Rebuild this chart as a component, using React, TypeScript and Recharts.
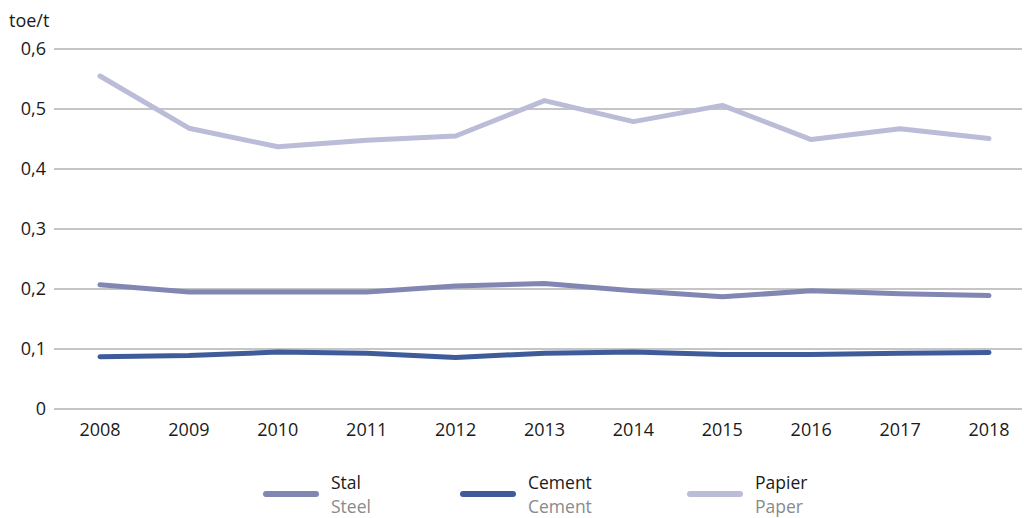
import React from 'react';
import { LineChart, Line, XAxis, YAxis, CartesianGrid } from 'recharts';

const years = ['2008', '2009', '2010', '2011', '2012', '2013', '2014', '2015', '2016', '2017', '2018'];
const steel = [0.207, 0.195, 0.195, 0.195, 0.205, 0.209, 0.197, 0.187, 0.197, 0.192, 0.189];
const cement = [0.087, 0.089, 0.095, 0.093, 0.086, 0.093, 0.095, 0.091, 0.091, 0.093, 0.094];
const paper = [0.555, 0.468, 0.437, 0.448, 0.455, 0.514, 0.479, 0.506, 0.449, 0.467, 0.451];
const yTicks = [0, 0.1, 0.2, 0.3, 0.4, 0.5, 0.6];

const seriesMeta = [
  { key: 'steel', pl: 'Stal', en: 'Steel', color: '#8187b2' },
  { key: 'cement', pl: 'Cement', en: 'Cement', color: '#3e5b9a' },
  { key: 'paper', pl: 'Papier', en: 'Paper', color: '#babcd8' },
];

const legendLeft = [263, 460, 687];

const data = years.map((y, i) => ({ year: y, steel: steel[i], cement: cement[i], paper: paper[i] }));

const FONT = '"Open Sans", "Noto Sans", sans-serif';
const FS = 18;

const LegendBlock = () => (
  <div style={{ position: 'absolute', top: 470, left: 0, width: 1024, height: 48, fontFamily: FONT, fontSize: 17.5 }}>
    {seriesMeta.map((s, i) => (
      <div
        key={s.key}
        style={{ position: 'absolute', left: legendLeft[i], top: 0, display: 'flex', alignItems: 'center' }}
      >
        <div style={{ width: 56, height: 6, borderRadius: 3, background: s.color, marginRight: 12 }} />
        <div style={{ display: 'flex', flexDirection: 'column', lineHeight: '24px', whiteSpace: 'nowrap' }}>
          <span style={{ color: '#1a1a1a' }}>{s.pl}</span>
          <span style={{ color: '#8a8a8a' }}>{s.en}</span>
        </div>
      </div>
    ))}
  </div>
);

export default function App() {
  return (
    <div style={{ position: 'absolute', left: 0, top: 0, width: 1024, height: 518, background: '#fff', overflow: 'hidden' }}>
      <LineChart width={1024} height={518} data={data} margin={{ top: 49, right: 2, bottom: 79, left: 0 }}>
        <CartesianGrid vertical={false} stroke="#8c8c8c" strokeWidth={1.2} />
        <XAxis
          dataKey="year"
          height={30}
          axisLine={false}
          tickLine={false}
          tickSize={0}
          tickMargin={14}
          padding={{ left: 46, right: 33 }}
          interval={0}
          tick={{ fontFamily: FONT, fontSize: FS, fill: '#1a1a1a' }}
        />
        <YAxis
          width={54}
          domain={[0, 0.6]}
          ticks={yTicks}
          axisLine={false}
          tickLine={false}
          tickSize={0}
          tickMargin={8}
          tickFormatter={(v: number) => String(Math.round(v * 10) / 10).replace('.', ',')}
          tick={{ fontFamily: FONT, fontSize: FS, fill: '#1a1a1a' }}
        />
        {seriesMeta.map((s) => (
          <Line
            key={s.key}
            dataKey={s.key}
            stroke={s.color}
            strokeWidth={5}
            strokeLinecap="round"
            strokeLinejoin="round"
            dot={false}
            activeDot={false}
            isAnimationActive={false}
            type="linear"
          />
        ))}
      </LineChart>
      <div style={{ position: 'absolute', left: 9, top: 8, fontFamily: FONT, fontSize: FS, color: '#1a1a1a' }}>toe/t</div>
      <LegendBlock />
    </div>
  );
}
